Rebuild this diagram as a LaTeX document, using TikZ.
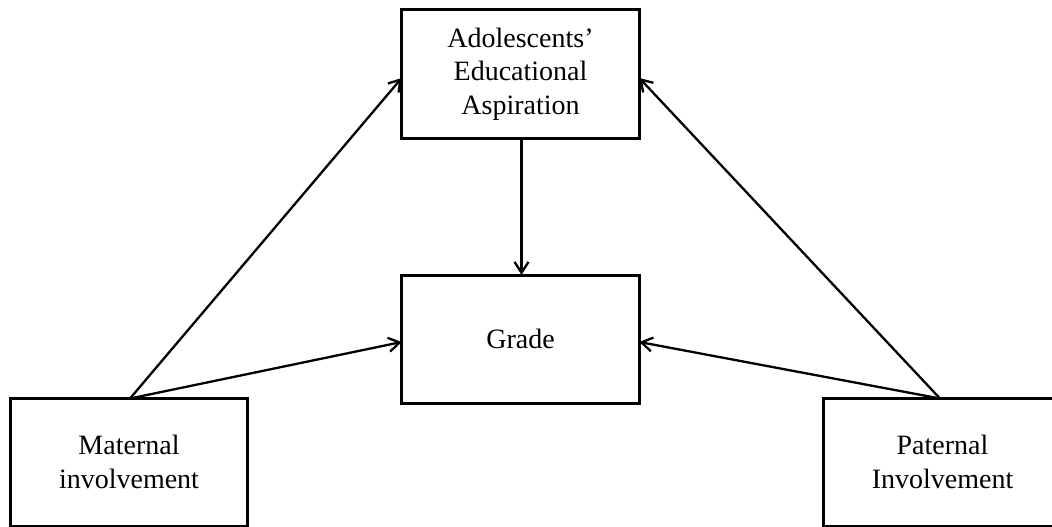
\documentclass[tikz,border=0pt]{standalone}
\usepackage{fontspec}
\setmainfont{Liberation Serif}
\usetikzlibrary{arrows.meta}
\begin{document}
\begin{tikzpicture}[x=1pt,y=-1pt,
  box/.style={draw, line width=3pt, rectangle, inner sep=0pt, outer sep=0pt,
    minimum height=128pt, align=center, font=\fontsize{28}{33.5}\selectfont},
  conn/.style={line width=2.3pt, -{Straight Barb[length=11pt,width=14pt,line width=2.3pt]}}]
\useasboundingbox (0,0) rectangle (1052,527);
\clip (0,0) rectangle (1052,527);
\fill[white] (0,0) rectangle (1052,527);
\node[box, minimum width=237.6pt] (asp) at (520.5,74) {Adolescents’\\Educational\\Aspiration};
\node[box, minimum width=237.6pt] (grade) at (520.5,339) {Grade};
\node[box, minimum width=237.7pt] (mat) at (129,462) {Maternal\\involvement};
\node[box, minimum width=239pt] (pat) at (942.5,462) {Paternal\\Involvement};
\coordinate (ms) at (130,398.5);
\coordinate (ps) at (940,398.5);
\draw[conn] (ms) -- ([yshift=-4pt]asp.west);
\draw[conn] (ms) -- ([yshift=-3pt]grade.west);
\draw[conn] (ps) -- ([yshift=-4pt]asp.east);
\draw[conn] (ps) -- ([yshift=-3pt]grade.east);
\draw[conn] ([xshift=1pt]asp.south) -- ([xshift=1pt]grade.north);
\end{tikzpicture}
\end{document}
